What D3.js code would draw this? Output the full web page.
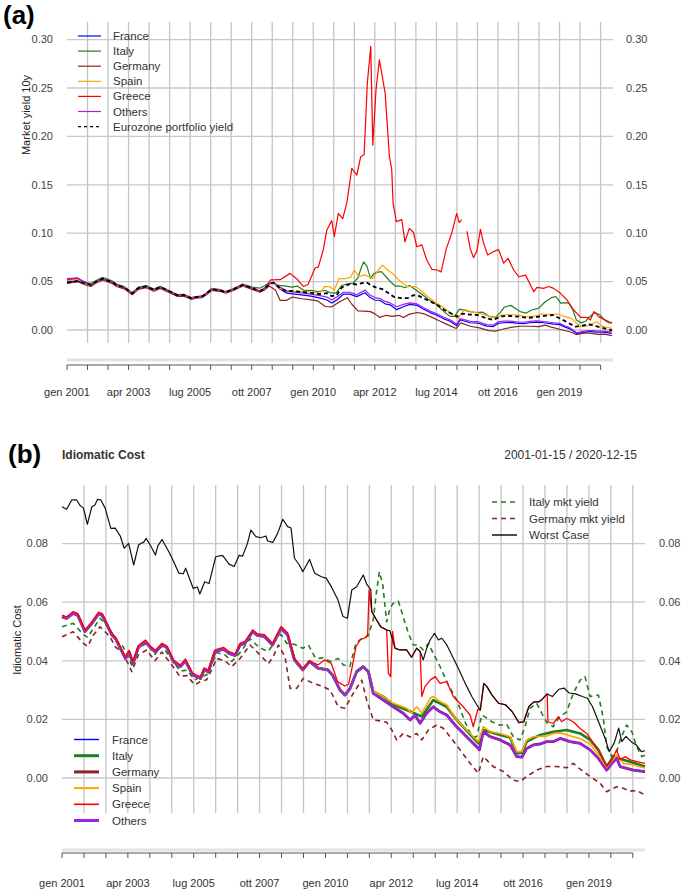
<!DOCTYPE html>
<html><head><meta charset="utf-8">
<script src="https://cdn.jsdelivr.net/npm/d3@7"></script>
<style>
body{margin:0;background:#fff}
svg{display:block}
text{font-family:"Liberation Sans",Arial,Helvetica,sans-serif}
</style>
</head><body>
<svg id="c" width="685" height="893"></svg>
<script>
// ---------------- DATA (month index from 2001-01 = 0, value) ----------------
const tickMonths = [0,9,18,27,36,45,54,63,72,81,90,99,108,117,126,135,144,153,162,171,180,189,198,207,216,225,234];
const tickLabels = {0:"gen 2001",27:"apr 2003",54:"lug 2005",81:"ott 2007",108:"gen 2010",135:"apr 2012",162:"lug 2014",189:"ott 2016",216:"gen 2019"};
const yTicksA = [0,0.05,0.10,0.15,0.20,0.25,0.30];
const yTicksB = [0,0.02,0.04,0.06,0.08];

// Market yields (used in panel a and as dashed lines in panel b)
const italyYield = [[0,0.0516],[4.6,0.0528],[8.7,0.049],[10.5,0.048],[12.8,0.051],[15.6,0.0545],[19.7,0.0508],[21.7,0.0475],[25.1,0.0448],[28.6,0.0385],[31.3,0.0443],[34.7,0.046],[38.1,0.0422],[40.9,0.0452],[45,0.0405],[48.4,0.0365],[51.1,0.0368],[54.5,0.0335],[56.6,0.0345],[59.3,0.0352],[61.4,0.0388],[63.4,0.0428],[66.8,0.042],[69.6,0.0398],[73,0.0428],[77.1,0.0475],[81.2,0.0443],[84.6,0.0432],[88,0.0475],[89.8,0.049],[92.1,0.046],[95.3,0.0456],[98.7,0.0443],[101,0.0454],[104,0.0408],[107,0.041],[110,0.0398],[113.3,0.0408],[115.3,0.0386],[118,0.038],[120.5,0.046],[123,0.0477],[125.5,0.0485],[127.6,0.054],[129,0.064],[130.1,0.0704],[131.5,0.066],[133.1,0.0533],[134.5,0.058],[135.8,0.0596],[137.9,0.0603],[139.9,0.055],[142,0.0494],[144,0.0454],[146.1,0.0454],[148.1,0.0437],[150.2,0.0459],[152.2,0.0425],[155,0.038],[158.4,0.0317],[161.8,0.0266],[165.2,0.0192],[168,0.0141],[170,0.0141],[172.1,0.0215],[174.1,0.0205],[176.2,0.0192],[179.6,0.018],[182.3,0.0184],[185,0.0141],[187.8,0.013],[189.8,0.0175],[191.9,0.0238],[194.6,0.0255],[196.7,0.0221],[198.7,0.019],[201.4,0.0175],[203.5,0.0204],[206.9,0.0226],[209.6,0.0289],[212.4,0.0334],[214.4,0.0346],[216.5,0.0278],[219.9,0.0283],[221.9,0.0204],[223.3,0.0107],[225.4,0.0073],[227.4,0.009],[228.8,0.013],[231.5,0.0181],[233.6,0.0158],[235.6,0.0107],[237.7,0.0073],[239,0.0078]];
const germanyYield = [[0,0.0482],[4.6,0.0499],[8.7,0.046],[10.5,0.0449],[12.8,0.0487],[15.6,0.0516],[19.7,0.0482],[21.7,0.0449],[25.1,0.0425],[28.6,0.0363],[31.3,0.042],[34.7,0.0437],[38.1,0.040],[40.9,0.043],[45,0.0386],[48.4,0.0346],[51.1,0.035],[54.5,0.0317],[56.6,0.0329],[59.3,0.0335],[61.4,0.037],[63.4,0.0408],[66.8,0.040],[69.6,0.038],[73,0.0408],[77.1,0.0454],[81.2,0.042],[84.6,0.039],[86.6,0.0414],[88.7,0.0454],[91.4,0.0414],[93.5,0.0306],[96.2,0.0306],[98.9,0.034],[103,0.0323],[107.1,0.0312],[109.9,0.030],[113.3,0.0243],[116,0.0238],[119.4,0.0289],[122.9,0.0334],[124.9,0.0266],[127.6,0.0198],[130.4,0.0195],[133.1,0.019],[135.2,0.0164],[137.2,0.013],[139.9,0.0152],[142.7,0.014],[145.4,0.0152],[147.5,0.013],[150.2,0.0164],[153.6,0.0181],[156.3,0.017],[159.1,0.0141],[163.2,0.0096],[167.3,0.005],[170.7,0.0016],[172.7,0.0073],[176.8,0.0039],[180.9,0.0022],[185,-0.0007],[187.8,-0.0012],[190.5,0.0005],[194.6,0.0027],[198.7,0.0039],[202.8,0.0039],[206.9,0.0035],[209.6,0.005],[212.4,0.003],[216.5,0.0005],[220.6,-0.0018],[223.3,-0.0047],[225.4,-0.0037],[227.4,-0.003],[230.1,-0.0035],[232.8,-0.0045],[235.6,-0.0043],[239,-0.0058]];

// Panel (a): shared early path 2001-2008 (series overlap), then each country
const commonEarlyA = [[8.7,0.0478],[10.5,0.0465],[12.8,0.050],[15.6,0.053],[19.7,0.0497],[21.7,0.0465],[25.1,0.044],[28.6,0.0378],[31.3,0.0435],[34.7,0.045],[38.1,0.0415],[40.9,0.0445],[45,0.040],[48.4,0.036],[51.1,0.0363],[54.5,0.033],[56.6,0.034],[59.3,0.0347],[61.4,0.0382],[63.4,0.042],[66.8,0.0412],[69.6,0.0392],[73,0.042],[77.1,0.0466],[81.2,0.0433],[84.6,0.0403],[86.6,0.0428]];
const franceStartA = [[0,0.0495],[4.6,0.0508]];
const franceLateA = [[88.7,0.0475],[90.5,0.049],[93,0.043],[96.4,0.038],[100,0.037],[103.6,0.036],[107,0.035],[111,0.033],[114,0.031],[116.1,0.0278],[118.3,0.031],[121.2,0.037],[124.1,0.037],[127,0.0345],[130.7,0.0385],[132.9,0.0335],[135,0.031],[137.3,0.0305],[139.5,0.027],[141.7,0.026],[144.6,0.021],[147.5,0.024],[150.4,0.0265],[153.4,0.0255],[156,0.022],[159.2,0.018],[162,0.0155],[165,0.0118],[168,0.009],[170.9,0.0045],[172.4,0.0105],[174.5,0.009],[176.8,0.0075],[180,0.0072],[184.1,0.004],[187,0.0035],[189,0.0068],[191.4,0.0075],[194.3,0.0078],[197,0.0072],[200.1,0.0065],[203,0.0075],[206,0.0082],[209,0.0075],[213.3,0.006],[216,0.0055],[218.5,0.003],[220.6,0.0012],[223.6,-0.004],[226.5,-0.0025],[229.4,-0.0015],[232,-0.0022],[235.2,-0.0022],[238.9,-0.0034]];
const othersStartA = [[0,0.053],[4.6,0.054]];
const othersLateA = [[88.7,0.048],[90.5,0.0495],[93,0.045],[96.4,0.040],[100,0.039],[103.6,0.038],[107,0.037],[111,0.0355],[114,0.034],[116.1,0.031],[118.3,0.034],[121.2,0.039],[124.1,0.039],[127,0.0365],[130.7,0.0412],[132.9,0.036],[135,0.0335],[137.3,0.0325],[139.5,0.0295],[141.7,0.028],[144.6,0.024],[147.5,0.0265],[150.4,0.028],[153.4,0.027],[156,0.0235],[159.2,0.0195],[162,0.017],[165,0.0135],[168,0.0105],[170.9,0.006],[172.4,0.0118],[174.5,0.0105],[176.8,0.009],[180,0.0088],[184.1,0.0055],[187,0.005],[189,0.0085],[191.4,0.0092],[194.3,0.0092],[197,0.0085],[200.1,0.008],[203,0.009],[206,0.0095],[209,0.0088],[213.3,0.0075],[216,0.0068],[218.5,0.0042],[220.6,0.0022],[223.6,-0.0028],[226.5,-0.0012],[229.4,-0.0005],[232,-0.001],[235.2,-0.0012],[238.9,-0.002]];
const spainStartA = [[0,0.051],[4.6,0.0525]];
const spainLateA = [[88.7,0.048],[90.5,0.049],[93,0.043],[96.4,0.041],[100,0.040],[104,0.040],[108,0.039],[111,0.038],[113,0.045],[115.5,0.0445],[117.2,0.041],[119.3,0.053],[122,0.053],[124.4,0.0545],[126,0.062],[128,0.055],[130.5,0.057],[132.5,0.055],[134,0.053],[136.5,0.062],[138.4,0.067],[140.5,0.062],[143,0.058],[145,0.0527],[147.3,0.048],[149.4,0.0448],[153,0.0448],[155.5,0.040],[158.2,0.0344],[162,0.028],[165.5,0.0224],[168.5,0.017],[171.4,0.012],[174.3,0.021],[177,0.019],[180.2,0.0176],[184,0.015],[188.2,0.012],[190.4,0.0155],[194,0.016],[197.7,0.0155],[200.5,0.014],[203.6,0.0138],[206,0.015],[208,0.0165],[212,0.016],[215.3,0.0165],[218,0.014],[221.2,0.012],[223.5,0.007],[225.6,0.0034],[228.5,0.0045],[232.2,0.0086],[235.1,0.0034],[239,0.0017]];
const greeceStartA = [[0,0.052],[4.6,0.0535]];
const greeceLateA = [[89.3,0.0517],[93.5,0.052],[97.8,0.0585],[100.7,0.053],[103.6,0.045],[105.7,0.047],[108.8,0.064],[110.2,0.065],[112.4,0.083],[113.9,0.103],[116.1,0.113],[117.2,0.0964],[119,0.1205],[120.9,0.115],[122.7,0.131],[124.9,0.167],[127.1,0.160],[128.8,0.179],[130.3,0.181],[131.7,0.255],[133.2,0.293],[134.1,0.191],[135.5,0.248],[137,0.279],[139.5,0.245],[141.4,0.179],[142.4,0.166],[143,0.131],[144.4,0.112],[146.8,0.114],[148.2,0.091],[150.1,0.105],[151.9,0.101],[153.4,0.086],[155.6,0.088],[157.8,0.072],[160,0.0627],[162.2,0.062],[164.1,0.060],[166.2,0.083],[168.7,0.100],[170.9,0.1205],[172,0.111],[173.1,0.114],[174.2,null],[175.4,0.102],[176.8,0.084],[178.3,0.0747],[179.8,0.082],[181.3,0.104],[182.7,0.0895],[184.5,0.0775],[187.1,0.081],[189.3,0.083],[191.5,0.069],[193.4,0.074],[195.9,0.062],[198.1,0.055],[201.1,0.0567],[204.7,0.0396],[206.1,0.044],[209,0.043],[211.2,0.045],[213.4,0.043],[216.4,0.0379],[219.3,0.031],[222.2,0.0207],[225.2,0.013],[228.1,0.013],[229.5,0.0103],[231.1,0.019],[233.2,0.0138],[235.4,0.011],[239,0.007]];
const euroStartA = [[0,0.049],[4.6,0.0505]];
const euroLateA = [[88.7,0.0475],[90.5,0.049],[93,0.044],[96,0.0405],[100,0.040],[104,0.039],[108,0.038],[111,0.037],[114,0.038],[116.1,0.035],[118.3,0.036],[120.5,0.044],[122.5,0.046],[124.7,0.048],[127,0.047],[129.5,0.0485],[131.5,0.049],[133.5,0.046],[135.5,0.044],[138.5,0.042],[141,0.038],[143.5,0.034],[146.5,0.033],[149.5,0.033],[152,0.036],[154.5,0.035],[157,0.032],[160,0.0287],[163,0.025],[165.5,0.0207],[168.5,0.017],[171,0.0138],[173.5,0.017],[176.5,0.016],[180,0.0155],[183.5,0.0125],[187,0.0103],[190,0.014],[194,0.0145],[198,0.0138],[202,0.0125],[206,0.0135],[210,0.0148],[213,0.0155],[217,0.011],[220.5,0.0065],[223,0.0034],[226,0.0045],[229,0.0058],[232,0.004],[236,0.0015],[239,-0.0003]];

// Panel (b): idiomatic cost
const packEarlyB = [[0,0.055],[1.9,0.0545],[4.6,0.0562],[6.5,0.0555],[9.4,0.050],[12,0.0525],[15,0.056],[16.5,0.0555],[20.5,0.0488],[22,0.0475],[26,0.0408],[27.5,0.043],[29.1,0.0391],[31.3,0.0446],[34.2,0.0465],[36.3,0.0445],[38.3,0.043],[41,0.0454],[43,0.0445],[45.8,0.0396],[48.5,0.038],[50.6,0.040],[53.4,0.0354],[55.4,0.0345],[56.8,0.034],[58.3,0.037],[60,0.0362],[62.7,0.0431],[66.2,0.044],[68.5,0.0425],[71,0.0418],[73,0.0454],[75,0.046],[78.2,0.050],[80,0.0487],[83,0.0483],[86.3,0.0454],[89.8,0.0511],[92.5,0.0488],[95.3,0.0403],[98.7,0.0369],[101.5,0.0398],[104.9,0.0375],[109,0.0369],[111,0.035],[114,0.030],[116,0.0283],[118.1,0.0306],[120.8,0.0363],[123.5,0.038],[125.6,0.0363]];
const packLateB = [[127.6,0.0289],[131.7,0.0266],[135.8,0.0243],[139.9,0.0221],[142.7,0.0198],[144.7,0.0215],[146.8,0.0187],[149.5,0.0221],[152.2,0.0243],[155,0.0226],[157.7,0.0215],[161.1,0.0181],[165.9,0.0141],[170,0.0107],[171.1,0.0096],[172.7,0.0158],[175.5,0.0141],[179.6,0.013],[183.7,0.0113],[186.4,0.0073],[188.5,0.0071],[190.5,0.0101],[193.2,0.0113],[196,0.0116],[198.7,0.0124],[201.4,0.0124],[204.2,0.0135],[208.3,0.0124],[212.4,0.0118],[216.5,0.0096],[219.9,0.0067],[223.3,0.0027],[225.4,0.005],[227.4,0.0067],[228.8,0.0039],[231.5,0.0033],[234.2,0.0027],[239,0.0022]];
const spainLateB = [[127.6,0.0295],[131.7,0.0278],[135.8,0.0255],[141.3,0.0238],[143.3,0.0221],[145.4,0.0243],[147.5,0.0221],[150.9,0.0272],[152.2,0.0278],[155,0.0261],[157.7,0.025],[161.8,0.0198],[165.9,0.0164],[170.7,0.0124],[172.7,0.0175],[175.5,0.0158],[179.6,0.0152],[183.7,0.0141],[186.4,0.009],[188.5,0.009],[190.5,0.013],[193.2,0.0141],[198.7,0.0143],[201.4,0.0152],[204.2,0.0154],[209.6,0.0141],[212.4,0.0135],[216.5,0.0116],[219.9,0.0079],[223.3,0.0033],[227.4,0.0079],[230.1,0.005],[234.2,0.0045],[239,0.0033]];
const italyLateB = [[127.6,0.0295],[131.7,0.0278],[135.8,0.025],[141.3,0.0232],[147.5,0.021],[152.2,0.0266],[157.7,0.0243],[161.8,0.0198],[170.7,0.0118],[172.7,0.0164],[179.6,0.0147],[183.7,0.0138],[186.4,0.0084],[188.5,0.0086],[190.5,0.0124],[196,0.0147],[201.4,0.0158],[206.9,0.0164],[209.6,0.0158],[212.4,0.0152],[216.5,0.013],[219.9,0.0096],[223.3,0.0039],[226,0.0073],[230.1,0.0062],[234.2,0.0052],[239,0.0039]];
const greeceB = [[0,0.0556],[1.9,0.055],[4.6,0.0568],[6.5,0.0561],[9.4,0.0506],[12,0.053],[15,0.0566],[16.5,0.0561],[20.5,0.0494],[22,0.048],[26,0.0414],[27.5,0.0436],[29.1,0.0397],[31.3,0.0452],[34.2,0.0471],[36.3,0.045],[38.3,0.0436],[41,0.046],[43,0.045],[45.8,0.0402],[48.5,0.0386],[50.6,0.0406],[53.4,0.036],[55.4,0.035],[56.8,0.0346],[58.3,0.0376],[60,0.0368],[62.7,0.0437],[66.2,0.0446],[68.5,0.0431],[71,0.0424],[73,0.046],[75,0.0466],[78.2,0.0506],[80,0.0493],[83,0.0489],[86.3,0.046],[89.8,0.0517],[92.5,0.0496],[95.3,0.0409],[98.7,0.0374],[101.5,0.040],[104.9,0.0386],[107.6,0.0403],[110.4,0.0391],[113,0.0329],[115.9,0.0314],[117.5,0.032],[119,0.038],[120.5,0.0448],[122.2,0.0471],[124.6,0.048],[125.3,0.049],[125.9,0.0642],[127,0.0568],[128.9,0.054],[130.7,0.0516],[133.1,0.0505],[133.8,0.0357],[134.7,0.0346],[135.5,0.050],[136.5,0.0443],[138.5,0.0437],[141.3,0.0437],[143.3,0.0412],[145.4,0.0443],[146.8,0.0432],[147.5,0.0278],[148.8,0.0312],[150.9,0.0334],[153,0.0346],[155,0.0323],[157.7,0.0329],[160.4,0.0278],[164.5,0.0243],[167.3,0.0215],[168.6,0.0175],[170.5,0.0235],[171.5,0.0232],[172.9,0.0323],[174.2,0.0312],[176.3,0.0283],[179,0.0255],[181.8,0.025],[184.5,0.0227],[187.3,0.0189],[189.3,0.0192],[191.4,0.0244],[193.5,0.026],[195.5,0.026],[196.9,0.0269],[198.9,0.0287],[199.2,0.0192],[201.4,0.0186],[203.5,0.0209],[204.8,0.0192],[206.9,0.0203],[209.6,0.0192],[212.4,0.0169],[215.1,0.0152],[217.9,0.0118],[220.6,0.0084],[223.3,0.0039],[225.4,0.0062],[227.4,0.0096],[228.8,0.0062],[230.9,0.0073],[233,0.0062],[235.6,0.0056],[239,0.005]];
const worstCase = [[0,0.0926],[1.9,0.0917],[4,0.0949],[6,0.0949],[7.4,0.093],[8.8,0.0921],[10.4,0.0866],[12.2,0.0925],[13.6,0.0933],[14.5,0.0951],[15.9,0.0949],[17.7,0.0921],[20,0.0852],[21.8,0.0853],[23.9,0.0826],[25.5,0.0784],[27.3,0.0801],[29.4,0.0727],[31.4,0.0796],[33.5,0.0805],[34.5,0.0818],[36.5,0.079],[38.3,0.0761],[39.3,0.0792],[41,0.0814],[43.8,0.0772],[45.8,0.0738],[47.9,0.0699],[49.7,0.0697],[50.7,0.0716],[53.8,0.0647],[55.5,0.0652],[56.5,0.0628],[58.5,0.067],[60.3,0.0664],[63,0.0755],[65.8,0.076],[68.5,0.073],[70.6,0.0722],[72.6,0.076],[74,0.0757],[76,0.080],[77.4,0.0846],[79.5,0.0824],[81.5,0.082],[83.6,0.0826],[84.3,0.0809],[86.4,0.0804],[88.4,0.0835],[90.5,0.0883],[92.5,0.0858],[93.9,0.0853],[95.3,0.075],[97.3,0.0727],[98.7,0.0704],[101.5,0.0746],[103.5,0.070],[106.3,0.0687],[108.3,0.0682],[110.4,0.0653],[113.1,0.0608],[115.2,0.0551],[117,0.0545],[118.8,0.0642],[120.8,0.0653],[123.5,0.0693],[124.9,0.0662],[126.6,0.0642],[127,0.0568],[128.9,0.054],[130.7,0.0516],[133.1,0.0505],[134.4,0.0503],[136.5,0.0443],[138.5,0.0437],[141.3,0.0437],[143.3,0.0412],[145.4,0.0443],[146.8,0.0432],[148.1,0.0403],[149.5,0.0443],[150.9,0.0471],[152.7,0.0494],[154.3,0.0471],[155.7,0.0477],[157.7,0.0455],[159.8,0.042],[162.5,0.0374],[165.3,0.0323],[168,0.0278],[170.1,0.0249],[171.5,0.0232],[172.9,0.0323],[174.2,0.0312],[176.3,0.0283],[179,0.0255],[181.8,0.025],[184.5,0.0227],[187.3,0.0189],[189.3,0.0192],[191.4,0.0244],[193.5,0.026],[195.5,0.026],[196.9,0.0269],[198.9,0.0287],[201,0.0278],[203.7,0.0303],[205.8,0.0307],[207.9,0.029],[210.6,0.0287],[213.3,0.0278],[215.4,0.0272],[217.5,0.0243],[220.2,0.0187],[222.9,0.013],[224.3,0.009],[226.4,0.012],[228.2,0.017],[229.5,0.0124],[231.2,0.0142],[233.3,0.0124],[235.4,0.0113],[237.5,0.009],[239,0.0093]];

const COL = {france:"#0000ff", italy:"#1f7f1f", germany:"#8b2323", spain:"#ffa500", greece:"#ff0000", others:"#a020f0", black:"#000"};

// ---------------- DRAW ----------------
const svg = d3.select("#c");
const FONT = '"Liberation Sans",Arial,sans-serif';

function drawFrame(p) {
  const g = svg.append("g");
  // horizontal grid
  g.selectAll(".hg").data(p.yTicks).enter().append("line")
    .attr("x1", p.gx1).attr("x2", p.gx2)
    .attr("y1", d => p.y(d)).attr("y2", d => p.y(d))
    .attr("stroke", "#c8c8c8").attr("stroke-width", 1.3);
  // vertical grid
  g.selectAll(".vg").data(tickMonths.slice(1)).enter().append("line")
    .attr("x1", d => p.x(d)).attr("x2", d => p.x(d))
    .attr("y1", p.vy1).attr("y2", p.vy2)
    .attr("stroke", "#c4c4c4").attr("stroke-width", 1.3);
  // y labels both sides
  g.selectAll(".yl").data(p.yTicks).enter().append("text")
    .attr("x", p.ylx).attr("y", d => p.y(d)).attr("dy", "0.35em")
    .attr("text-anchor", "end").attr("font-size", 11).attr("fill", "#444")
    .text(d => d3.format(p.fmt)(d));
  g.selectAll(".yr").data(p.yTicks).enter().append("text")
    .attr("x", p.yrx).attr("y", d => p.y(d)).attr("dy", "0.35em")
    .attr("text-anchor", "start").attr("font-size", 11).attr("fill", "#444")
    .text(d => d3.format(p.fmt)(d));
  // x axis band + axis
  g.append("rect").attr("x", p.gx1).attr("width", p.gx2 - p.gx1)
    .attr("y", p.bandY - 1.5).attr("height", 3).attr("fill", "#e4e4e4");
  g.append("line").attr("x1", p.x(0)).attr("x2", p.x(234))
    .attr("y1", p.axY).attr("y2", p.axY).attr("stroke", "#555").attr("stroke-width", 1);
  g.selectAll(".tk").data(tickMonths).enter().append("line")
    .attr("x1", d => p.x(d)).attr("x2", d => p.x(d))
    .attr("y1", p.axY).attr("y2", p.axY + 5).attr("stroke", "#555").attr("stroke-width", 1);
  g.selectAll(".xl").data(tickMonths.filter(m => tickLabels[m])).enter().append("text")
    .attr("x", d => p.x(d)).attr("y", p.lblY).attr("text-anchor", "middle")
    .attr("font-size", 11).attr("fill", "#333").text(d => tickLabels[d]);
  // y title
  g.append("text").attr("transform", `translate(${p.ytx},${p.yty}) rotate(-90)`)
    .attr("text-anchor", "middle").attr("font-size", 11).attr("fill", "#222").text(p.ytitle);
}

function drawSeries(p, data, color, width, dash) {
  const line = d3.line().defined(d => d[1] !== null).x(d => p.x(d[0])).y(d => p.y(d[1]));
  svg.append("path").datum(data).attr("d", line).attr("fill", "none")
    .attr("stroke", color).attr("stroke-width", width)
    .attr("stroke-dasharray", dash || null).attr("stroke-linejoin", "round");
}

function drawLegend(items, lx1, lx2, tx, y0, dy, fs) {
  const g = svg.append("g");
  items.forEach((it, i) => {
    const y = y0 + i * dy;
    g.append("line").attr("x1", lx1).attr("x2", lx2).attr("y1", y).attr("y2", y)
      .attr("stroke", it.c).attr("stroke-width", it.w).attr("stroke-dasharray", it.d || null);
    g.append("text").attr("x", tx).attr("y", y).attr("dy", "0.35em")
      .attr("font-size", fs).attr("fill", "#333").text(it.t);
  });
}

// ---- Panel (a)
const pA = {
  x: d3.scaleLinear().domain([0, 239]).range([67, 612]),
  y: d3.scaleLinear().domain([0, 0.30]).range([330, 39.6]),
  yTicks: yTicksA, fmt: ".2f", gx1: 67, gx2: 613, vy1: 22, vy2: 343,
  ylx: 53, yrx: 626, bandY: 360, axY: 365, lblY: 396,
  ytx: 30, yty: 115, ytitle: "Market yield 10y"
};
drawFrame(pA);
drawSeries(pA, franceStartA.concat(commonEarlyA, franceLateA), COL.france, 1.2);
drawSeries(pA, italyYield, COL.italy, 1.2);
drawSeries(pA, germanyYield, COL.germany, 1.2);
drawSeries(pA, spainStartA.concat(commonEarlyA, spainLateA), COL.spain, 1.2);
drawSeries(pA, greeceStartA.concat(commonEarlyA, greeceLateA), COL.greece, 1.2);
drawSeries(pA, othersStartA.concat(commonEarlyA, othersLateA), COL.others, 1.2);
drawSeries(pA, euroStartA.concat(commonEarlyA, euroLateA), COL.black, 1.8, "4,3");
drawLegend([
  {t:"France", c:COL.france, w:1.2}, {t:"Italy", c:COL.italy, w:1.2},
  {t:"Germany", c:COL.germany, w:1.2}, {t:"Spain", c:COL.spain, w:1.2},
  {t:"Greece", c:COL.greece, w:1.2}, {t:"Others", c:COL.others, w:1.2},
  {t:"Eurozone portfolio yield", c:"#000", w:1.2, d:"3,3"}
], 78, 101, 113, 36, 15.1, 11.5);
svg.append("text").attr("x", 3).attr("y", 24).attr("font-size", 26).attr("font-weight", "bold")
  .attr("fill", "#000").text("(a)");

// ---- Panel (b)
const pB = {
  x: d3.scaleLinear().domain([0, 239]).range([62, 645]),
  y: d3.scaleLinear().domain([0, 0.08]).range([778, 543.6]),
  yTicks: yTicksB, fmt: ".2f", gx1: 62, gx2: 645, vy1: 485, vy2: 813,
  ylx: 48, yrx: 659, bandY: 850, axY: 853, lblY: 887,
  ytx: 21, yty: 640, ytitle: "Idiomatic Cost"
};
drawFrame(pB);
drawSeries(pB, italyYield, COL.italy, 1.6, "5,4");
drawSeries(pB, germanyYield, COL.germany, 1.6, "5,4");
drawSeries(pB, packEarlyB.concat(packLateB), COL.germany, 2.8);
drawSeries(pB, packEarlyB.concat(italyLateB), COL.italy, 2.6);
drawSeries(pB, packEarlyB.concat(packLateB), COL.france, 1.4);
drawSeries(pB, packEarlyB.concat(spainLateB), COL.spain, 1.6);
drawSeries(pB, packEarlyB.concat(packLateB), COL.others, 2.0);
drawSeries(pB, greeceB, COL.greece, 1.3);
drawSeries(pB, worstCase, "#111", 1.2);
drawLegend([
  {t:"Italy mkt yield", c:COL.italy, w:1.6, d:"5,4"},
  {t:"Germany mkt yield", c:COL.germany, w:1.6, d:"5,4"},
  {t:"Worst Case", c:"#000", w:1.4}
], 492, 517, 529, 502, 16.5, 11.5);
drawLegend([
  {t:"France", c:COL.france, w:1.4}, {t:"Italy", c:COL.italy, w:3},
  {t:"Germany", c:COL.germany, w:3}, {t:"Spain", c:COL.spain, w:2},
  {t:"Greece", c:COL.greece, w:1.6}, {t:"Others", c:COL.others, w:3}
], 74, 99, 112, 739.5, 16.2, 11.5);
svg.append("text").attr("x", 8).attr("y", 463).attr("font-size", 26).attr("font-weight", "bold")
  .attr("fill", "#000").text("(b)");
svg.append("text").attr("x", 62).attr("y", 459).attr("font-size", 12).attr("font-weight", "bold")
  .attr("fill", "#333").text("Idiomatic Cost");
svg.append("text").attr("x", 637).attr("y", 459).attr("font-size", 12).attr("text-anchor", "end")
  .attr("fill", "#333").text("2001-01-15 / 2020-12-15");
</script>
</body></html>
